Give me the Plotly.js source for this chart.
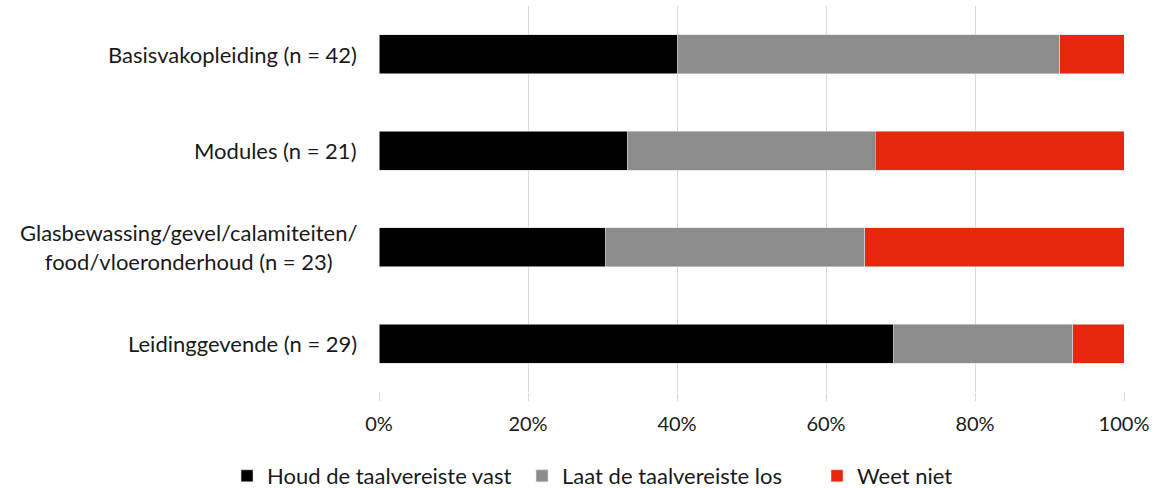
<!DOCTYPE html>
<html>
<head>
<meta charset="utf-8">
<script src="https://cdn.plot.ly/plotly-3.0.1.min.js"></script>
<style>html,body{margin:0;padding:0;background:#fff;}#chart{width:1159px;height:488px;}</style>
</head>
<body>
<div id="chart"></div>
<script>
const categories = [
  "Basisvakopleiding (n = 42)",
  "Modules (n = 21)",
  "Glasbewassing/gevel/calamiteiten/<br>food/vloeronderhoud (n = 23)",
  "Leidinggevende (n = 29)"
];
const seriesNames = ["Houd de taalvereiste vast", "Laat de taalvereiste los", "Weet niet"];
const houdVast = [40.0, 33.3, 30.4, 69.0];
const laatLos = [51.4, 33.3, 34.8, 24.1];
const weetNiet = [8.6, 33.4, 34.8, 6.9];
const colors = ["#000000", "#8c8c8c", "#e6270b"];
const xTickVals = [0, 20, 40, 60, 80, 100];
const xTickText = ["0%", "20%", "40%", "60%", "80%", "100%"];

const FONT = "Lato, 'Open Sans', sans-serif";
const values = [houdVast, laatLos, weetNiet];
const traces = values.map((v, i) => ({
  type: "bar",
  orientation: "h",
  name: seriesNames[i],
  y: categories,
  x: v,
  marker: {color: colors[i], line: {color: "#d9d9d9", width: 0.6}},
  hoverinfo: "x+name"
}));

const annotations = categories.map(c => ({
  xref: "paper", yref: "y", x: 0, y: c,
  xanchor: "right", yanchor: "middle", align: "center",
  xshift: -20, text: c, showarrow: false,
  font: {family: FONT, size: 22, color: "#1a1a1a"}
}));

const layout = {
  width: 1159, height: 488,
  margin: {l: 379, r: 35, t: 6, b: 96, autoexpand: false},
  barmode: "stack",
  bargap: 0.60,
  paper_bgcolor: "#fff", plot_bgcolor: "#fff",
  font: {family: FONT, size: 20, color: "#1a1a1a"},
  xaxis: {
    range: [0, 100], tickvals: xTickVals, ticktext: xTickText,
    showgrid: true, gridcolor: "#d9d9d9", gridwidth: 1,
    zeroline: false, showline: false,
    ticks: "outside", ticklen: 8, tickcolor: "#d9d9d9", tickwidth: 1,
    ticklabelstandoff: 6,
    tickfont: {family: FONT, size: 20, color: "#1a1a1a"},
    fixedrange: true
  },
  yaxis: {
    categoryorder: "array", categoryarray: categories,
    autorange: "reversed", showticklabels: false,
    showgrid: false, zeroline: false, showline: false, ticks: "",
    fixedrange: true
  },
  showlegend: true,
  legend: {
    orientation: "h", xref: "paper", yref: "paper",
    x: -0.204, xanchor: "left", y: -0.2176, yanchor: "middle",
    font: {family: FONT, size: 22, color: "#1a1a1a"},
    traceorder: "normal", itemwidth: 30,
    entrywidth: 250, entrywidthmode: "pixels"
  },
  annotations: annotations
};

Plotly.newPlot("chart", traces, layout, {displayModeBar: false, staticPlot: true});
</script>
</body>
</html>
